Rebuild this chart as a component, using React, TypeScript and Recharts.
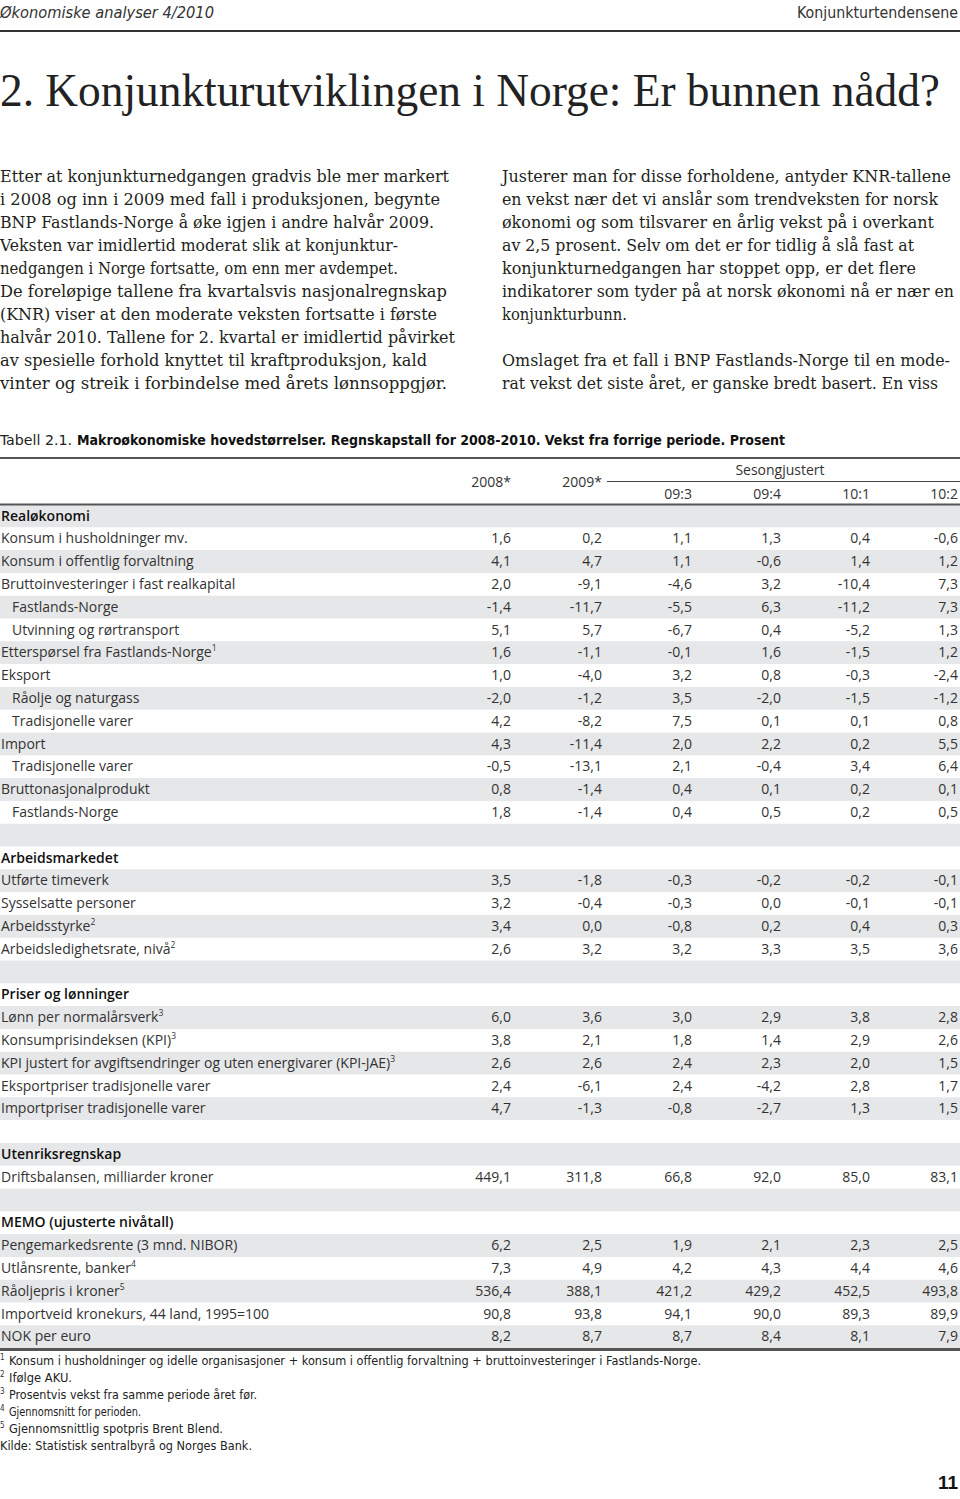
import React from 'react';
import { Surface, Layer, Rectangle } from 'recharts';

const W = 960;
const H = 1499;

const headerLeft = 'Økonomiske analyser 4/2010';
const headerRight = 'Konjunkturtendensene';
const title = '2. Konjunkturutviklingen i Norge: Er bunnen nådd?';

const leftLines = [
  'Etter at konjunkturnedgangen gradvis ble mer markert',
  'i 2008 og inn i 2009 med fall i produksjonen, begynte',
  'BNP Fastlands-Norge å øke igjen i andre halvår 2009.',
  'Veksten var imidlertid moderat slik at konjunktur-',
  'nedgangen i Norge fortsatte, om enn mer avdempet.',
  'De foreløpige tallene fra kvartalsvis nasjonalregnskap',
  '(KNR) viser at den moderate veksten fortsatte i første',
  'halvår 2010. Tallene for 2. kvartal er imidlertid påvirket',
  'av spesielle forhold knyttet til kraftproduksjon, kald',
  'vinter og streik i forbindelse med årets lønnsoppgjør.',
];
const leftWidths = [449, 440, 434, 398, 398, 447, 437, 455, 427, 447];

const rightLines = [
  'Justerer man for disse forholdene, antyder KNR-tallene',
  'en vekst nær det vi anslår som trendveksten for norsk',
  'økonomi og som tilsvarer en årlig vekst på i overkant',
  'av 2,5 prosent. Selv om det er for tidlig å slå fast at',
  'konjunkturnedgangen har stoppet opp, er det flere',
  'indikatorer som tyder på at norsk økonomi nå er nær en',
  'konjunkturbunn.',
  '',
  'Omslaget fra et fall i BNP Fastlands-Norge til en mode-',
  'rat vekst det siste året, er ganske bredt basert. En viss',
];
const rightWidths = [449, 436, 432, 412, 414, 452, 125, 0, 448, 436];

const captionLead = 'Tabell 2.1.';
const captionText = 'Makroøkonomiske hovedstørrelser. Regnskapstall for 2008-2010. Vekst fra forrige periode. Prosent';
const seasonLabel = 'Sesongjustert';
const columnLabels = ['2008*', '2009*', '09:3', '09:4', '10:1', '10:2'];

type Row = { label: string; sup?: string; indent?: boolean; bold?: boolean; values?: number[] };

const rows: Row[] = [
  { label: 'Realøkonomi', bold: true },
  { label: 'Konsum i husholdninger mv.', values: [1.6, 0.2, 1.1, 1.3, 0.4, -0.6] },
  { label: 'Konsum i offentlig forvaltning', values: [4.1, 4.7, 1.1, -0.6, 1.4, 1.2] },
  { label: 'Bruttoinvesteringer i fast realkapital', values: [2.0, -9.1, -4.6, 3.2, -10.4, 7.3] },
  { label: 'Fastlands-Norge', indent: true, values: [-1.4, -11.7, -5.5, 6.3, -11.2, 7.3] },
  { label: 'Utvinning og rørtransport', indent: true, values: [5.1, 5.7, -6.7, 0.4, -5.2, 1.3] },
  { label: 'Etterspørsel fra Fastlands-Norge', sup: '1', values: [1.6, -1.1, -0.1, 1.6, -1.5, 1.2] },
  { label: 'Eksport', values: [1.0, -4.0, 3.2, 0.8, -0.3, -2.4] },
  { label: 'Råolje og naturgass', indent: true, values: [-2.0, -1.2, 3.5, -2.0, -1.5, -1.2] },
  { label: 'Tradisjonelle varer', indent: true, values: [4.2, -8.2, 7.5, 0.1, 0.1, 0.8] },
  { label: 'Import', values: [4.3, -11.4, 2.0, 2.2, 0.2, 5.5] },
  { label: 'Tradisjonelle varer', indent: true, values: [-0.5, -13.1, 2.1, -0.4, 3.4, 6.4] },
  { label: 'Bruttonasjonalprodukt', values: [0.8, -1.4, 0.4, 0.1, 0.2, 0.1] },
  { label: 'Fastlands-Norge', indent: true, values: [1.8, -1.4, 0.4, 0.5, 0.2, 0.5] },
  { label: '' },
  { label: 'Arbeidsmarkedet', bold: true },
  { label: 'Utførte timeverk', values: [3.5, -1.8, -0.3, -0.2, -0.2, -0.1] },
  { label: 'Sysselsatte personer', values: [3.2, -0.4, -0.3, 0.0, -0.1, -0.1] },
  { label: 'Arbeidsstyrke', sup: '2', values: [3.4, 0.0, -0.8, 0.2, 0.4, 0.3] },
  { label: 'Arbeidsledighetsrate, nivå', sup: '2', values: [2.6, 3.2, 3.2, 3.3, 3.5, 3.6] },
  { label: '' },
  { label: 'Priser og lønninger', bold: true },
  { label: 'Lønn per normalårsverk', sup: '3', values: [6.0, 3.6, 3.0, 2.9, 3.8, 2.8] },
  { label: 'Konsumprisindeksen (KPI)', sup: '3', values: [3.8, 2.1, 1.8, 1.4, 2.9, 2.6] },
  { label: 'KPI justert for avgiftsendringer og uten energivarer (KPI-JAE)', sup: '3', values: [2.6, 2.6, 2.4, 2.3, 2.0, 1.5] },
  { label: 'Eksportpriser tradisjonelle varer', values: [2.4, -6.1, 2.4, -4.2, 2.8, 1.7] },
  { label: 'Importpriser tradisjonelle varer', values: [4.7, -1.3, -0.8, -2.7, 1.3, 1.5] },
  { label: '' },
  { label: 'Utenriksregnskap', bold: true },
  { label: 'Driftsbalansen, milliarder kroner', values: [449.1, 311.8, 66.8, 92.0, 85.0, 83.1] },
  { label: '' },
  { label: 'MEMO (ujusterte nivåtall)', bold: true },
  { label: 'Pengemarkedsrente (3 mnd. NIBOR)', values: [6.2, 2.5, 1.9, 2.1, 2.3, 2.5] },
  { label: 'Utlånsrente, banker', sup: '4', values: [7.3, 4.9, 4.2, 4.3, 4.4, 4.6] },
  { label: 'Råoljepris i kroner', sup: '5', values: [536.4, 388.1, 421.2, 429.2, 452.5, 493.8] },
  { label: 'Importveid kronekurs, 44 land, 1995=100', values: [90.8, 93.8, 94.1, 90.0, 89.3, 89.9] },
  { label: 'NOK per euro', values: [8.2, 8.7, 8.7, 8.4, 8.1, 7.9] },
];

const footnoteMarks = ['1', '2', '3', '4', '5'];
const footnotes = [
  'Konsum i husholdninger og idelle organisasjoner + konsum i offentlig forvaltning + bruttoinvesteringer i Fastlands-Norge.',
  'Ifølge AKU.',
  'Prosentvis vekst fra samme periode året før.',
  'Gjennomsnitt for perioden.',
  'Gjennomsnittlig spotpris Brent Blend.',
];
const footnoteWidths = [692, 63, 248, 132, 214];
const sourceText = 'Kilde: Statistisk sentralbyrå og Norges Bank.';
const pageNumber = '11';

const fmt = (v: number) => v.toFixed(1).replace('.', ',');

const colRight = [511, 602, 692, 781, 870, 958];
const rowTop0 = 504.5;
const rowH = 22.8;

const SERIF = '"DejaVu Serif", serif';
const SANS = '"Open Sans", "Noto Sans", sans-serif';
const COND = '"Liberation Sans Narrow", "DejaVu Sans Condensed", "Roboto Condensed", sans-serif';
const BODY_SIZE = 15.8;

export default function App() {
  return (
    <div style={{ position: 'absolute', left: 0, top: 0, width: W, height: H, background: '#fff' }}>
      <Surface width={W} height={H} viewBox={{ x: 0, y: 0, width: W, height: H }}>
        {/* page header */}
        <Layer>
          <text x={0} y={18} fontFamily={COND} fontStyle="italic" fontSize={15} fill="#333" textLength={214} lengthAdjust="spacingAndGlyphs">{headerLeft}</text>
          <text x={958} y={18} fontFamily={COND} fontSize={15} fill="#333" textAnchor="end" textLength={161} lengthAdjust="spacingAndGlyphs">{headerRight}</text>
          <Rectangle x={0} y={30} width={W} height={2} fill="#333" />
          <text x={0} y={106} fontFamily='"Liberation Serif", serif' fontSize={46} fill="#222" textLength={940} lengthAdjust="spacingAndGlyphs">{title}</text>
        </Layer>
        {/* body text */}
        <Layer>
          {leftLines.map((l, i) => (
            <text key={'l' + i} x={0} y={182 + i * 23} fontFamily={SERIF} fontSize={BODY_SIZE} fill="#231f20" textLength={leftWidths[i]} lengthAdjust="spacingAndGlyphs">{l}</text>
          ))}
          {rightLines.map((l, i) => l ? (
            <text key={'r' + i} x={502} y={182 + i * 23} fontFamily={SERIF} fontSize={BODY_SIZE} fill="#231f20" textLength={rightWidths[i]} lengthAdjust="spacingAndGlyphs">{l}</text>
          ) : null)}
        </Layer>
        {/* table caption */}
        <Layer>
          <text x={0} y={445} fontFamily={COND} fontSize={14} fill="#222" textLength={72} lengthAdjust="spacingAndGlyphs">{captionLead}</text>
          <text x={77} y={445} fontFamily={COND} fontWeight="bold" fontSize={14} fill="#111" textLength={708} lengthAdjust="spacingAndGlyphs">{captionText}</text>
        </Layer>
        {/* table */}
        <Layer>
          {rows.map((r, i) => i % 2 === 0 ? (
            <Rectangle key={'bg' + i} x={0} y={rowTop0 + i * rowH} width={W} height={rowH} fill="#e6e7e8" />
          ) : null)}
          <Rectangle x={0} y={457} width={W} height={2} fill="#555" />
          <Rectangle x={0} y={503.5} width={W} height={2} fill="#555" />
          <Rectangle x={0} y={rowTop0 + rows.length * rowH} width={W} height={3} fill="#555" />
          <Rectangle x={607} y={481} width={353} height={1} fill="#444" />
          <text x={780} y={475} fontFamily={SANS} fontSize={14} fill="#333" textAnchor="middle">{seasonLabel}</text>
          {columnLabels.map((c, j) => (
            <text key={'h' + j} x={colRight[j]} y={j < 2 ? 487 : 499} fontFamily={SANS} fontSize={14} fill="#333" textAnchor="end">{c}</text>
          ))}
          {rows.map((r, i) => {
            const by = rowTop0 + i * rowH + 16;
            return (
              <g key={'row' + i}>
                {r.label ? (
                  <text x={r.indent ? 12 : 1} y={by} fontFamily={SANS} fontSize={14} fontWeight={r.bold ? 600 : 400} fill={r.bold ? '#111' : '#333'}>
                    {r.label}
                    {r.sup ? <tspan fontSize={8.5} dy={-6}>{r.sup}</tspan> : null}
                  </text>
                ) : null}
                {r.values ? r.values.map((v, j) => (
                  <text key={j} x={colRight[j]} y={by} fontFamily={SANS} fontSize={14} fill="#333" textAnchor="end">{fmt(v)}</text>
                )) : null}
              </g>
            );
          })}
        </Layer>
        {/* footnotes */}
        <Layer>
          {footnotes.map((f, i) => (
            <g key={'fn' + i}>
              <text x={0} y={1360 + i * 17.1} fontFamily={COND} fontSize={8} fill="#333">{footnoteMarks[i]}</text>
              <text x={9} y={1364.5 + i * 17.1} fontFamily={COND} fontSize={13} fill="#222" textLength={footnoteWidths[i]} lengthAdjust="spacingAndGlyphs">{f}</text>
            </g>
          ))}
          <text x={0} y={1364.5 + 5 * 17.1} fontFamily={COND} fontSize={13} fill="#222" textLength={252} lengthAdjust="spacingAndGlyphs">{sourceText}</text>
          <text x={958} y={1489} fontFamily='"Liberation Sans", Arial, sans-serif' fontWeight="bold" fontSize={19} fill="#111" textAnchor="end">{pageNumber}</text>
        </Layer>
      </Surface>
    </div>
  );
}
